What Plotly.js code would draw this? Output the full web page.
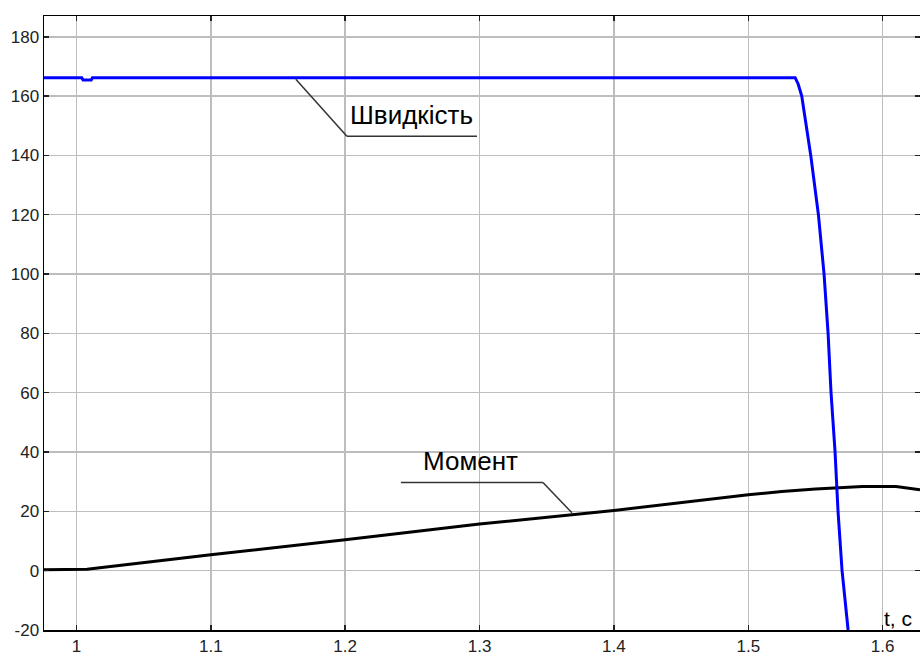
<!DOCTYPE html>
<html>
<head>
<meta charset="utf-8">
<script src="https://cdn.plot.ly/plotly-3.0.1.min.js"></script>
<style>html,body{margin:0;padding:0;background:#fff}#chart{width:920px;height:660px}</style>
</head>
<body>
<div id="chart"></div>
<script>
// Speed (Швидкість)
const speedT = [0.9759, 1.004, 1.005, 1.011, 1.012, 1.2, 1.4, 1.5349, 1.5372, 1.5398, 1.5465, 1.5522, 1.5564, 1.5594, 1.5616, 1.5646, 1.5668, 1.5698, 1.5743, 1.578];
const speedV = [166.2, 166.2, 165.4, 165.4, 166.2, 166.2, 166.2, 166.2, 164, 160, 140, 120, 100, 80, 60, 40, 20, 0, -20, -30];
// Moment (Момент)
const momentT = [0.9759, 1.0, 1.008, 1.1, 1.2, 1.3, 1.4, 1.5, 1.525, 1.55, 1.585, 1.61, 1.6278];
const momentV = [0.3, 0.3, 0.5, 5.4, 10.4, 15.7, 20.3, 25.6, 26.7, 27.5, 28.4, 28.4, 27.3];
const xTicks = [1, 1.1, 1.2, 1.3, 1.4, 1.5, 1.6];
const yTicks = [-20, 0, 20, 40, 60, 80, 100, 120, 140, 160, 180];

const traces = [
  {x: momentT, y: momentV, type: 'scatter', mode: 'lines', line: {color: '#000000', width: 3}, hoverinfo: 'skip'},
  {x: speedT, y: speedV, type: 'scatter', mode: 'lines', line: {color: '#0000ff', width: 3}, hoverinfo: 'skip'}
];

const axisCommon = {
  showline: true, linecolor: '#000', linewidth: 1.5, mirror: 'ticks',
  ticks: 'inside', ticklen: 5, tickwidth: 1.5, tickcolor: '#222',
  showgrid: true, gridcolor: '#bdbdbd', gridwidth: 1.5, zeroline: false,
  tickfont: {family: 'Liberation Sans, Arial, sans-serif', size: 17, color: '#222'}
};

const layout = {
  width: 920, height: 660,
  margin: {l: 44, r: 0, t: 16, b: 30},
  paper_bgcolor: '#fff', plot_bgcolor: '#fff',
  showlegend: false,
  xaxis: Object.assign({}, axisCommon, {range: [0.9759, 1.6278], tickvals: xTicks, ticktext: xTicks.map(String)}),
  yaxis: Object.assign({}, axisCommon, {range: [-20, 187], tickvals: yTicks, ticktext: yTicks.map(String)}),
  shapes: [
    {type: 'line', xref: 'x', yref: 'y', x0: 1.1633, y0: 165.7, x1: 1.2013, y1: 146.5, line: {color: '#333', width: 1.5}},
    {type: 'line', xref: 'x', yref: 'y', x0: 1.2013, y0: 146.5, x1: 1.2981, y1: 146.5, line: {color: '#333', width: 1.5}},
    {type: 'line', xref: 'x', yref: 'y', x0: 1.2415, y0: 29.7, x1: 1.3472, y1: 29.7, line: {color: '#333', width: 1.5}},
    {type: 'line', xref: 'x', yref: 'y', x0: 1.3472, y0: 29.7, x1: 1.3688, y1: 19.5, line: {color: '#333', width: 1.5}}
  ],
  annotations: [
    {text: 'Швидкість', xref: 'x', yref: 'y', x: 1.2492, y: 148, xanchor: 'center', yanchor: 'bottom', showarrow: false,
     font: {family: 'Liberation Sans, Arial, sans-serif', size: 26, color: '#000'}},
    {text: 'Момент', xref: 'x', yref: 'y', x: 1.2932, y: 31.2, xanchor: 'center', yanchor: 'bottom', showarrow: false,
     font: {family: 'Liberation Sans, Arial, sans-serif', size: 26, color: '#000'}},
    {text: 't, c', xref: 'x', yref: 'y', x: 1.6115, y: -16, xanchor: 'center', yanchor: 'middle', showarrow: false,
     font: {family: 'Liberation Sans, Arial, sans-serif', size: 21, color: '#000'}}
  ]
};

Plotly.newPlot('chart', traces, layout, {staticPlot: true, displayModeBar: false});
</script>
</body>
</html>
